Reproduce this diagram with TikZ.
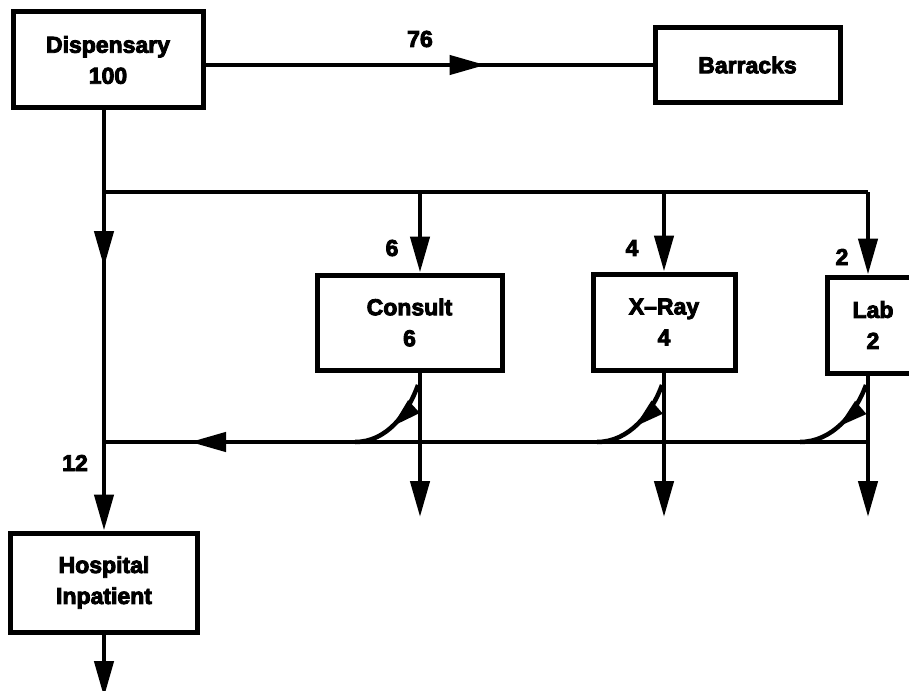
\documentclass[tikz,border=0pt]{standalone}
\usepackage{fontspec}
\setmainfont{Liberation Sans}
\usetikzlibrary{arrows.meta,decorations.markings}
% heavier lettering: fill and stroke the glyph outlines
\newcommand{\heavy}[1]{\special{pdf:literal direct 2 Tr 0.9 w}#1\special{pdf:literal direct 0 Tr}}

\begin{document}
\begin{tikzpicture}[x=1pt,y=1pt,
  box/.style={draw, line width=5pt, rectangle, align=center, inner sep=0pt,
    font=\fontsize{23}{31}\selectfont\bfseries},
  flow/.style={line width=4.5pt},
  lbl/.style={font=\fontsize{23}{27}\selectfont\bfseries, inner sep=0pt},
  head/.tip={Triangle[length=36pt,width=19pt]},
  smallhead/.tip={Triangle[length=30pt,width=16pt]},
  midhead/.style={postaction={decorate},
    decoration={markings, mark=at position #1 with {\arrow{head}}}},
  bendhead/.style={postaction={decorate},
    decoration={markings, mark=at position #1 with {\arrow{smallhead}}}},
]
\useasboundingbox (0,-690) rectangle (909,0);
\clip (0,-690) rectangle (909,0);
\fill[white] (0,-690) rectangle (909,0);

% boxes
\node[box, minimum width=190pt, minimum height=96pt] (disp) at (108,-60) {\heavy{Dispensary\\100}};
\node[box, minimum width=185pt, minimum height=75pt] (barr) at (747.5,-65) {\heavy{Barracks}};
\node[box, minimum width=185pt, minimum height=95pt] (cons) at (409.5,-322.5) {\heavy{Consult\\6}};
\node[box, minimum width=142pt, minimum height=96pt] (xray) at (664,-322) {\heavy{X–Ray\\4}};
\node[box, minimum width=92pt, minimum height=96pt] (lab) at (873,-325) {\heavy{Lab\\2}};
\node[box, minimum width=187pt, minimum height=99pt] (hosp) at (104,-582.5) {\heavy{Hospital\\Inpatient}};

% junction points of the distribution bus and the return line
\coordinate (split) at (104,-192);
\coordinate (cin) at (420,-192);
\coordinate (xin) at (664,-192);
\coordinate (lin) at (868,-192);
\coordinate (rjoin) at (104,-442);
\coordinate (lret) at (868,-442);
\coordinate (cout) at (420,-517);
\coordinate (xout) at (664,-517);
\coordinate (lout) at (868,-517);
\coordinate (hout) at (104,-697);
% where each return curve leaves its output line and meets the return line
\coordinate (cbend) at (418,-385);
\coordinate (xbend) at (662,-385);
\coordinate (lbend) at (866,-385);
\coordinate (cmeet) at (355,-442);
\coordinate (xmeet) at (597,-442);
\coordinate (lmeet) at (800,-442);

% Dispensary to Barracks
\draw[flow, midhead=280pt] (disp.east |- barr.west) -- (barr.west);

% trunk down to the hospital
\draw[flow] (disp.south -| split) -- (split);
\draw[flow, midhead=75pt, -{head}] (split) -- (hosp.north);
\draw[flow, -{head}] (hosp.south) -- (hout);

% distribution bus
\draw[flow] (split) -- (lin);
\draw[flow, -{head}] (cin) -- (cin |- cons.north);
\draw[flow, -{head}] (xin) -- (xin |- xray.north);
\draw[flow, -{head}] (lin) -- (lin |- lab.north);

% outputs
\draw[flow, -{head}] (cin |- cons.south) -- (cout);
\draw[flow, -{head}] (xin |- xray.south) -- (xout);
\draw[flow, -{head}] (lin |- lab.south) -- (lout);

% return line and its feeding curves
\draw[flow, midhead=678pt] (lret) -- (rjoin);
\draw[flow, bendhead=0.55] (cbend) .. controls +(-10,-28) and +(32,0) .. (cmeet);
\draw[flow, bendhead=0.55] (xbend) .. controls +(-10,-28) and +(32,0) .. (xmeet);
\draw[flow, bendhead=0.55] (lbend) .. controls +(-10,-28) and +(32,0) .. (lmeet);

% flow counts
\node[lbl] (n76) at (420,-39) {\heavy{76}};
\node[lbl] (n6) at (392,-248) {\heavy{6}};
\node[lbl] (n4) at (632,-248) {\heavy{4}};
\node[lbl] (n2) at (842,-257) {\heavy{2}};
\node[lbl] (n12) at (75,-463) {\heavy{12}};
\end{tikzpicture}
\end{document}
